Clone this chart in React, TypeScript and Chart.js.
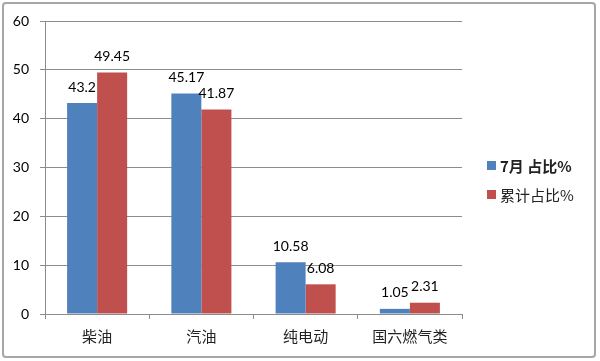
import React, { useEffect, useRef } from "react";
import { Chart, registerables } from "chart.js";

Chart.register(...registerables);

const categories = ["柴油", "汽油", "纯电动", "国六燃气类"];
const seriesNames = ["7月 占比%", "累计占比%"];
const julyShare = [43.2, 45.17, 10.58, 1.05];
const cumulativeShare = [49.45, 41.87, 6.08, 2.31];
const yTicks = [0, 10, 20, 30, 40, 50, 60];

const BLUE = "#4F81BD";
const RED = "#C0504D";
const GRID = "#8C8C8C";
const NUM_FONT = "Lato, 'Liberation Sans', sans-serif";
const CJK_FONT = "'Noto Sans CJK SC', 'Noto Sans', sans-serif";

const decorPlugin = {
  id: "decor",
  beforeDraw(chart: any) {
    const ctx = chart.ctx;
    ctx.save();
    ctx.fillStyle = "#ffffff";
    ctx.fillRect(0, 0, chart.width, chart.height);
    ctx.strokeStyle = "#A6A6A6";
    ctx.lineWidth = 2;
    ctx.beginPath();
    const x = 3, y = 3, w = 592, h = 354, r = 3;
    ctx.moveTo(x + r, y);
    ctx.lineTo(x + w - r, y);
    ctx.arcTo(x + w, y, x + w, y + r, r);
    ctx.lineTo(x + w, y + h - r);
    ctx.arcTo(x + w, y + h, x + w - r, y + h, r);
    ctx.lineTo(x + r, y + h);
    ctx.arcTo(x, y + h, x, y + h - r, r);
    ctx.lineTo(x, y + r);
    ctx.arcTo(x, y, x + r, y, r);
    ctx.closePath();
    ctx.stroke();
    ctx.restore();
  },
  afterDatasetsDraw(chart: any) {
    const ctx = chart.ctx;
    ctx.save();
    ctx.font = `14px ${NUM_FONT}`;
    ctx.fillStyle = "#000000";
    ctx.textAlign = "center";
    ctx.textBaseline = "middle";
    chart.data.datasets.forEach((ds: any, di: number) => {
      const meta = chart.getDatasetMeta(di);
      meta.data.forEach((bar: any, i: number) => {
        ctx.fillText(String(ds.data[i]), bar.x, bar.y - 16);
      });
    });
    // legend
    const colors = [BLUE, RED];
    const ys = [165.5, 194.5];
    seriesNames.forEach((name, i) => {
      ctx.fillStyle = colors[i];
      ctx.fillRect(487, ys[i] - 4.5, 9, 9);
      ctx.fillStyle = "#222222";
      ctx.textAlign = "left";
      ctx.font = `${i === 0 ? "bold " : ""}15px ${CJK_FONT}`;
      ctx.fillText(name, 500, ys[i] + 1);
    });
    ctx.restore();
  },
};

export default function App() {
  const ref = useRef<HTMLCanvasElement>(null);
  useEffect(() => {
    document.body.style.margin = "0";
    const chart = new Chart(ref.current!, {
      type: "bar",
      data: {
        labels: categories,
        datasets: [
          {
            label: seriesNames[0],
            data: julyShare,
            backgroundColor: BLUE,
            barPercentage: 1,
            categoryPercentage: 0.576,
          },
          {
            label: seriesNames[1],
            data: cumulativeShare,
            backgroundColor: RED,
            barPercentage: 1,
            categoryPercentage: 0.576,
          },
        ],
      },
      options: {
        animation: false,
        responsive: false,
        layout: { padding: { top: 21, right: 138, bottom: 17, left: 0 } },
        plugins: { legend: { display: false }, tooltip: { enabled: false } },
        scales: {
          x: {
            offset: true,
            grid: {
              offset: true,
              drawOnChartArea: false,
              drawTicks: true,
              tickLength: 5,
              color: GRID,
            },
            border: { display: false },
            ticks: {
              padding: 8,
              color: "#222222",
              font: { family: CJK_FONT, size: 15 },
            },
            afterFit(scale: any) {
              scale.height = 30;
            },
          },
          y: {
            min: 0,
            max: 60,
            afterBuildTicks(scale: any) {
              scale.ticks = yTicks.map((v) => ({ value: v }));
            },
            grid: { color: GRID, tickLength: 5 },
            border: { display: true, color: GRID },
            ticks: {
              padding: 11,
              color: "#000000",
              font: { family: NUM_FONT, size: 14 },
            },
            afterFit(scale: any) {
              scale.width = 45;
            },
          },
        },
      },
      plugins: [decorPlugin],
    });
    return () => chart.destroy();
  }, []);
  return (
    <div style={{ width: 600, height: 361 }}>
      <canvas ref={ref} width={600} height={361} style={{ display: "block" }} />
    </div>
  );
}
